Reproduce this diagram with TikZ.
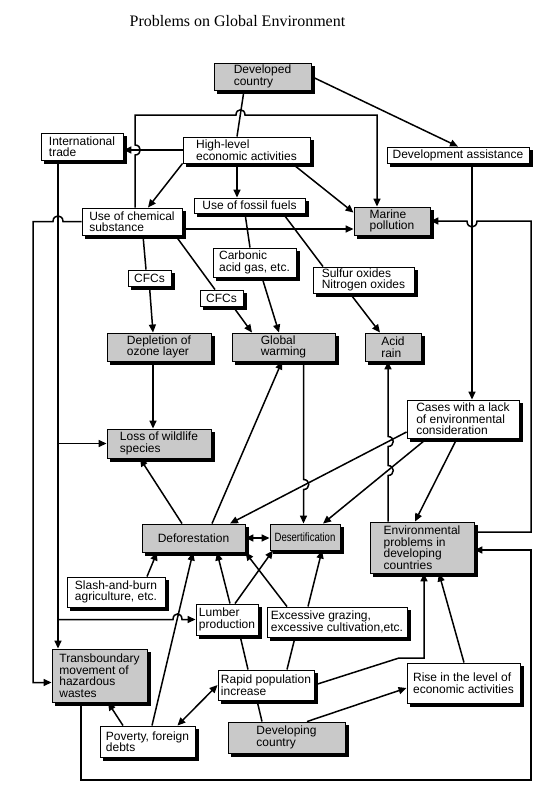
\documentclass[tikz,border=0pt]{standalone}
\usepackage{fontspec}
\setmainfont{Liberation Sans}
\newfontfamily\titlefont{Liberation Serif}
\usetikzlibrary{arrows.meta,calc}
\begin{document}
\begin{tikzpicture}[x=1pt,y=-1pt,
  bx/.style={draw, line width=0.9pt, fill=white, align=left, inner sep=0pt,
     font=\fontsize{12}{11.5}\selectfont},
  gbx/.style={bx, fill=gray!42},
  wh/.style 2 args={minimum width=#1pt, minimum height=#2pt},
  ln/.style={line width=1.5pt},
  ar/.style={ln, -{Triangle[length=8pt,width=7pt]}},
  dar/.style={ln, {Triangle[length=8pt,width=7pt]}-{Triangle[length=8pt,width=7pt]}},
  shd/.style={fill=black},
]
\fill[white] (0,0) rectangle (543,788);
\useasboundingbox (0,0) rectangle (543,788);

\node[font=\titlefont\fontsize{16}{16}\selectfont] (title) at (237.5,21) {Problems on Global Environment};

\node[gbx, wh={97}{27}] (devd) at (262.5,76.5) {Developed\\country};
\node[bx, wh={82}{27}] (itrade) at (82,146.5) {International\\trade};
\node[bx, wh={127}{26}] (hlea) at (246.5,150) {High-level\\economic activities};
\node[bx, wh={142}{16}] (devass) at (458,155) {Development assistance};
\node[bx, wh={111}{15}] (fossil) at (249.5,205.5) {Use of fossil fuels};
\node[bx, wh={100}{27}] (chem) at (132,221.5) {Use of chemical\\substance};
\node[gbx, wh={76}{28}] (marine) at (392,221) {Marine\\pollution};
\node[bx, wh={43}{16}] (cfcA) at (149.5,278) {CFCs};
\node[bx, wh={83}{29}] (carb) at (254.5,262.5) {Carbonic\\acid gas, etc.};
\node[bx, wh={43}{16}] (cfcB) at (221.5,298) {CFCs};
\node[bx, wh={101}{26}] (sulf) at (363.5,280) {Sulfur oxides\\Nitrogen oxides};
\node[gbx, wh={104}{28}] (ozone) at (159,347) {Depletion of\\ozone layer};
\node[gbx, wh={103}{28}] (gw) at (283.5,347) {Global\\warming};
\node[gbx, wh={56}{28}] (acid) at (393,347) {Acid\\rain};
\node[gbx, wh={104}{29}] (wild) at (159,443.5) {Loss of wildlife\\species};
\node[bx, wh={112}{38}] (cases) at (463,419) {Cases with a lack\\of environmental\\consideration};
\node[gbx, wh={103}{28}] (defor) at (193.5,538) {Deforestation};
\node[gbx, wh={70}{26}] (deser) at (305,537) {\scalebox{0.8}[1]{Desertification}};
\node[gbx, wh={104}{51}] (envp) at (422,547.5) {Environmental\\problems in\\developing\\countries};
\node[bx, wh={98}{30}] (slash) at (116,592) {Slash-and-burn\\agriculture, etc.};
\node[bx, wh={62}{31}] (lumber) at (227,619.5) {Lumber\\production};
\node[bx, wh={140}{30}] (excess) at (337,622) {Excessive grazing,\\excessive cultivation,etc.};
\node[gbx, wh={95}{53}] (trans) at (99.5,675.5) {Transboundary\\movement of\\hazardous\\wastes};
\node[bx, wh={96}{30}] (rapid) at (266,685) {Rapid population\\increase};
\node[bx, wh={113}{40}] (rise) at (463.5,683) {Rise in the level of\\economic activities};
\node[bx, wh={95}{31}] (poverty) at (147.5,741.5) {Poverty, foreign\\debts};
\node[gbx, wh={117}{31}] (devg) at (286.5,737.5) {Developing\\country};

% box shadows (right and bottom)
\foreach \n in {devd,itrade,hlea,devass,fossil,chem,marine,cfcA,carb,cfcB,sulf,ozone,gw,acid,wild,cases,defor,deser,envp,slash,lumber,excess,trans,rapid,rise,poverty,devg}{
  \fill[shd] ($(\n.north east)+(0.45,3)$) rectangle ($(\n.south east)+(3.4,3.4)$);
  \fill[shd] ($(\n.south west)+(3,0.45)$) rectangle ($(\n.south east)+(3.4,3.4)$);
}

\coordinate (itx) at ([xshift=-24pt]itrade.south);

% top area
\draw[ln] ([xshift=-18.5pt]devd.south) -- ([xshift=-9.5pt]hlea.north);
\draw[ar] (devd.east) -- (devass.north);
\draw[ar] ([xshift=3pt]chem.north) -- (135,155) .. controls (142,155) and (142,145) .. (135,145)
   -- (135,115) -- (236,115) .. controls (236,108) and (245,108) .. (245,115)
   -- (377,115) -- ([xshift=-15pt]marine.north);
\draw[ar] (hlea.west) -- (hlea.west -| itrade.east);
\draw[ar] ([xshift=-9.5pt]hlea.south) -- ([xshift=-9.5pt]hlea.south |- fossil.north);
\draw[ar] (hlea.south west) -- ([xshift=16pt]chem.north);
\draw[ar] ([xshift=45.5pt]hlea.south) -- ($(marine.north west)+(0,6)$);
\draw[ar] ($(chem.east)+(0,7.5)$) -- ($(marine.west)+(0,8)$);

% CFCs, gases
\draw[ln] ([xshift=11pt]chem.south) -- ([xshift=-3.5pt]cfcA.north);
\draw[ar] (cfcA.south) -- ([xshift=-6pt]ozone.north);
\draw[ln] ([xshift=-7pt]chem.south east) -- ([xshift=-6.5pt]cfcB.north);
\draw[ar] ([xshift=11.5pt]cfcB.south) -- ([xshift=-31.5pt]gw.north);
\draw[ln] ([xshift=-4.5pt]fossil.south) -- ([xshift=-4.5pt]carb.north);
\draw[ar] ([xshift=7.5pt]carb.south) -- ([xshift=-4.5pt]gw.north);
\draw[ln] ([xshift=33.5pt]fossil.south) -- ([xshift=-40.5pt]sulf.north);
\draw[ar] ([xshift=-13.5pt]sulf.south) -- ([xshift=-13pt]acid.north);
\draw[ar] ([xshift=-6pt]ozone.south) -- ([xshift=-6pt]wild.north);

% international trade line
\draw[ar] (itx) -- ([xshift=-41.5pt]trans.north);
\draw[ar] (itx |- wild.west) -- (wild.west);
\draw[ar] (itx |- lumber.west) -- (173,619.5) .. controls (173,612) and (182,612) .. (182,619.5) -- (lumber.west);

% chemical -> transboundary
\draw[ar] (chem.west) -- (63,221.5) .. controls (63,214) and (53,214) .. (53,221.5)
   -- (33,221.5) |- ($(trans.west)+(0,7)$);

% development assistance -> cases
\draw[ar] ([xshift=14pt]devass.south) -- ([xshift=14pt]devass.south |- cases.north);

% env problems -> marine
\draw[ar] ($(envp.east)+(0,-15.5)$) -- (531,532) -- (531,221) -- (477,221)
   .. controls (477,229) and (467,229) .. (467,221) -- (marine.east);

% transboundary -> env problems
\draw[ar] ([xshift=-18.5pt]trans.south) |- (531,780) |- ($(envp.east)+(0,2.5)$);

% cases
\draw[ar] ($(cases.west)+(0,13)$) -- ([xshift=36.5pt]defor.north);
\draw[ar] ([xshift=-36pt]cases.south) -- ([xshift=18pt]deser.north);
\draw[ar] ([xshift=-6pt]cases.south) -- ([xshift=-7pt]envp.north);

% env problems -> acid rain
\draw[ar] ([xshift=-34pt]envp.north) -- (388,475.5) .. controls (395,475.5) and (395,465.5) .. (388,465.5)
   -- (388,446.5) .. controls (395,446.5) and (395,436.5) .. (388,436.5) -- ([xshift=-5pt]acid.south);

% global warming -> desertification
\draw[ar] ([xshift=20pt]gw.south) -- (303.5,479.5) .. controls (310.5,479.5) and (310.5,489.5) .. (303.5,489.5)
   -- ([xshift=-1.5pt]deser.north);

% deforestation
\draw[ar] ([xshift=18.5pt]defor.north) -- ([xshift=-1.5pt]gw.south);
\draw[ar] ([xshift=-11.5pt]defor.north) -- ([xshift=-19pt]wild.south);
\draw[dar] (defor.east) -- (defor.east -| deser.west);

% lower causes
\draw[ar] ([xshift=31pt]slash.north) -- ([xshift=-36.5pt]defor.south);
\draw[ar] ([xshift=4.5pt]poverty.north) -- ([xshift=-0.5pt]defor.south);
\draw[ar] ([xshift=3pt]lumber.north) -- ([xshift=23.5pt]defor.south);
\draw[ar] ([xshift=8pt]lumber.north) -- ([xshift=-32pt]deser.south);
\draw[ar] ([xshift=-50pt]excess.north) -- (defor.south east);
\draw[ar] ([xshift=-29pt]excess.north) -- ([xshift=17pt]deser.south);
\draw[ln] ([xshift=-18pt]rapid.north) -- ([xshift=13pt]lumber.south);
\draw[ln] ([xshift=21pt]rapid.north) -- ([xshift=-42pt]excess.south);
\draw[ar] (rapid.east) -- (399,658) -- (424,658) -- ([xshift=2pt]envp.south);
\draw[ar] ([xshift=0.5pt]rise.north) -- ([xshift=17pt]envp.south);
\draw[ar] ([xshift=20.5pt]devg.north) -- ($(rise.west)+(0,5)$);
\draw[ln] ([xshift=-24.5pt]devg.north) -- ([xshift=-9pt]rapid.south);
\draw[dar] ([xshift=-18pt]poverty.north east) -- (rapid.west);
\draw[ar] ([xshift=-24.5pt]poverty.north) -- ([xshift=8.5pt]trans.south);
\end{tikzpicture}
\end{document}
